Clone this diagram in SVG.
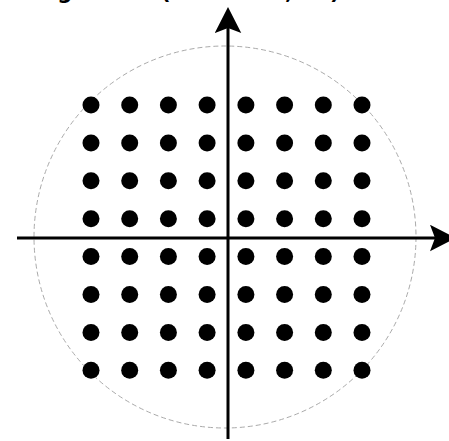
<svg xmlns="http://www.w3.org/2000/svg" width="449" height="441" viewBox="0 0 449 441">
  <style>
    .title { font-family: "DejaVu Sans", "Liberation Sans", sans-serif; font-weight: bold; font-size: 21px; fill: #000; }
    .pt { fill: #000; }
    .axis { stroke: #000; stroke-width: 3; fill: none; }
    .ring { fill: none; stroke: #aaaaaa; stroke-width: 1; stroke-dasharray: 5 3; }
  </style>
  <defs>
    <marker id="arr" markerUnits="userSpaceOnUse" viewBox="0 0 26 27" markerWidth="26" markerHeight="27" refX="5" refY="13.25" orient="auto">
      <path d="M0,0 L26,13.25 L0,26.5 L5,13.25 z" fill="#000"/>
    </marker>
  </defs>
  <rect width="449" height="441" fill="#fff"/>
  <text class="title" y="-1"><tspan x="35">Signal Set </tspan><tspan x="161">(M = 64</tspan><tspan x="285">, d</tspan><tspan x="330">)</tspan></text>
  <circle id="boundary" class="ring" cx="225" cy="237" r="191"/>
  <g id="points">
    <g id="row1">
      <circle class="pt" cx="91" cy="105" r="8.5"/><circle class="pt" cx="129.7" cy="105" r="8.5"/><circle class="pt" cx="168.4" cy="105" r="8.5"/><circle class="pt" cx="207.1" cy="105" r="8.5"/><circle class="pt" cx="245.9" cy="105" r="8.5"/><circle class="pt" cx="284.6" cy="105" r="8.5"/><circle class="pt" cx="323.3" cy="105" r="8.5"/><circle class="pt" cx="362" cy="105" r="8.5"/>
    </g>
    <g id="row2">
      <circle class="pt" cx="91" cy="142.9" r="8.5"/><circle class="pt" cx="129.7" cy="142.9" r="8.5"/><circle class="pt" cx="168.4" cy="142.9" r="8.5"/><circle class="pt" cx="207.1" cy="142.9" r="8.5"/><circle class="pt" cx="245.9" cy="142.9" r="8.5"/><circle class="pt" cx="284.6" cy="142.9" r="8.5"/><circle class="pt" cx="323.3" cy="142.9" r="8.5"/><circle class="pt" cx="362" cy="142.9" r="8.5"/>
    </g>
    <g id="row3">
      <circle class="pt" cx="91" cy="180.8" r="8.5"/><circle class="pt" cx="129.7" cy="180.8" r="8.5"/><circle class="pt" cx="168.4" cy="180.8" r="8.5"/><circle class="pt" cx="207.1" cy="180.8" r="8.5"/><circle class="pt" cx="245.9" cy="180.8" r="8.5"/><circle class="pt" cx="284.6" cy="180.8" r="8.5"/><circle class="pt" cx="323.3" cy="180.8" r="8.5"/><circle class="pt" cx="362" cy="180.8" r="8.5"/>
    </g>
    <g id="row4">
      <circle class="pt" cx="91" cy="218.7" r="8.5"/><circle class="pt" cx="129.7" cy="218.7" r="8.5"/><circle class="pt" cx="168.4" cy="218.7" r="8.5"/><circle class="pt" cx="207.1" cy="218.7" r="8.5"/><circle class="pt" cx="245.9" cy="218.7" r="8.5"/><circle class="pt" cx="284.6" cy="218.7" r="8.5"/><circle class="pt" cx="323.3" cy="218.7" r="8.5"/><circle class="pt" cx="362" cy="218.7" r="8.5"/>
    </g>
    <g id="row5">
      <circle class="pt" cx="91" cy="256.6" r="8.5"/><circle class="pt" cx="129.7" cy="256.6" r="8.5"/><circle class="pt" cx="168.4" cy="256.6" r="8.5"/><circle class="pt" cx="207.1" cy="256.6" r="8.5"/><circle class="pt" cx="245.9" cy="256.6" r="8.5"/><circle class="pt" cx="284.6" cy="256.6" r="8.5"/><circle class="pt" cx="323.3" cy="256.6" r="8.5"/><circle class="pt" cx="362" cy="256.6" r="8.5"/>
    </g>
    <g id="row6">
      <circle class="pt" cx="91" cy="294.5" r="8.5"/><circle class="pt" cx="129.7" cy="294.5" r="8.5"/><circle class="pt" cx="168.4" cy="294.5" r="8.5"/><circle class="pt" cx="207.1" cy="294.5" r="8.5"/><circle class="pt" cx="245.9" cy="294.5" r="8.5"/><circle class="pt" cx="284.6" cy="294.5" r="8.5"/><circle class="pt" cx="323.3" cy="294.5" r="8.5"/><circle class="pt" cx="362" cy="294.5" r="8.5"/>
    </g>
    <g id="row7">
      <circle class="pt" cx="91" cy="332.4" r="8.5"/><circle class="pt" cx="129.7" cy="332.4" r="8.5"/><circle class="pt" cx="168.4" cy="332.4" r="8.5"/><circle class="pt" cx="207.1" cy="332.4" r="8.5"/><circle class="pt" cx="245.9" cy="332.4" r="8.5"/><circle class="pt" cx="284.6" cy="332.4" r="8.5"/><circle class="pt" cx="323.3" cy="332.4" r="8.5"/><circle class="pt" cx="362" cy="332.4" r="8.5"/>
    </g>
    <g id="row8">
      <circle class="pt" cx="91" cy="370.3" r="8.5"/><circle class="pt" cx="129.7" cy="370.3" r="8.5"/><circle class="pt" cx="168.4" cy="370.3" r="8.5"/><circle class="pt" cx="207.1" cy="370.3" r="8.5"/><circle class="pt" cx="245.9" cy="370.3" r="8.5"/><circle class="pt" cx="284.6" cy="370.3" r="8.5"/><circle class="pt" cx="323.3" cy="370.3" r="8.5"/><circle class="pt" cx="362" cy="370.3" r="8.5"/>
    </g>
  </g>
  <g id="axes">
    <line class="axis" x1="17" y1="238" x2="435" y2="238" marker-end="url(#arr)"/>
    <line class="axis" x1="228" y1="439" x2="228" y2="28" marker-end="url(#arr)"/>
  </g>
</svg>
